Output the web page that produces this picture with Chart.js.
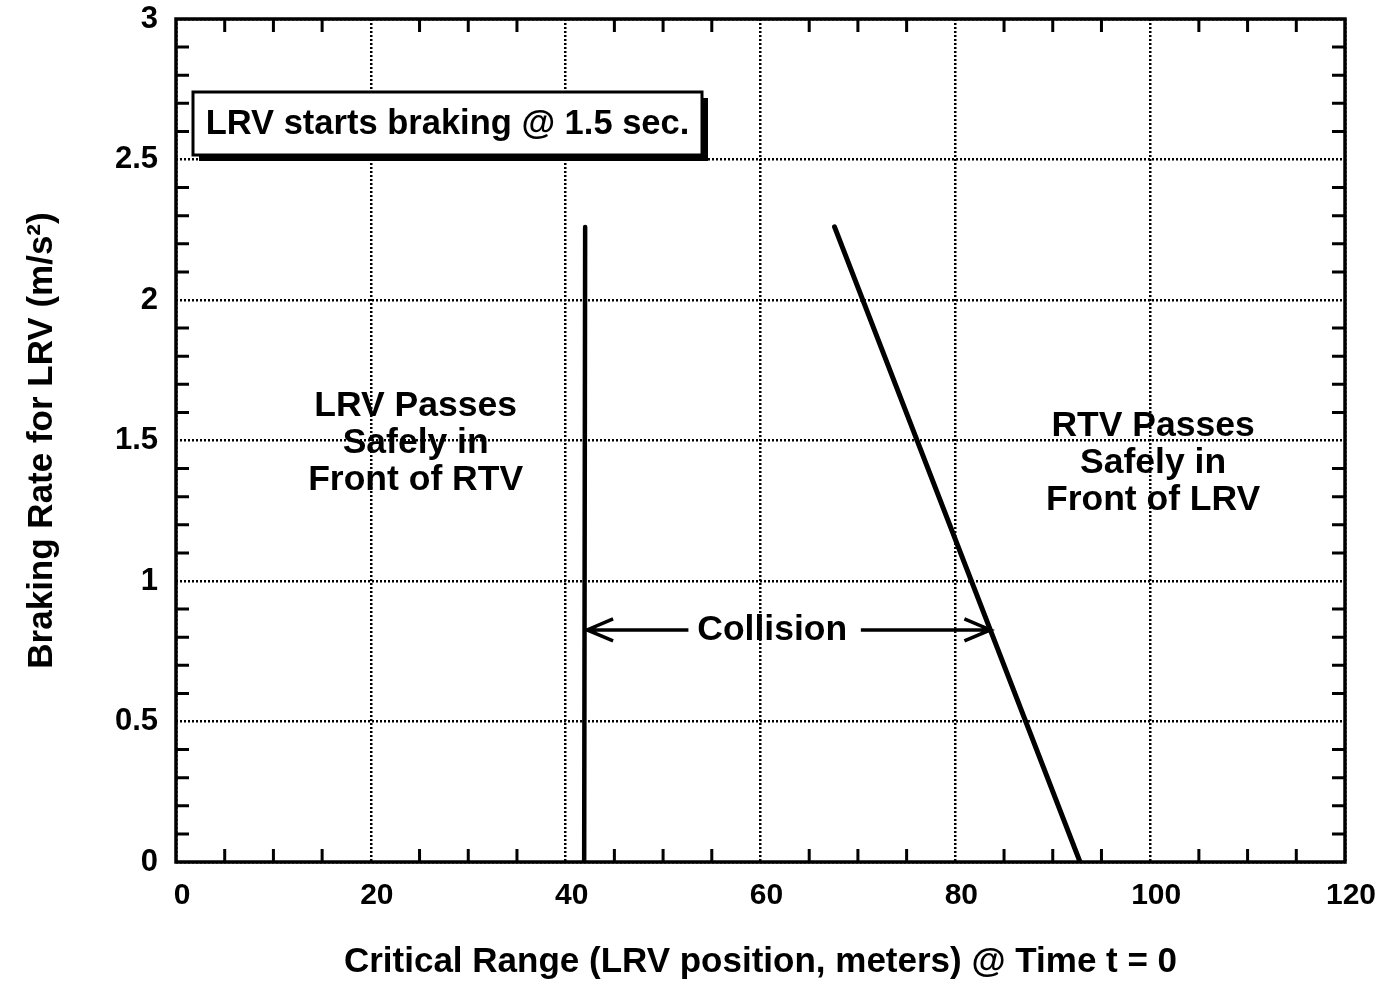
<!DOCTYPE html>
<html><head><meta charset="utf-8">
<script src="https://cdn.jsdelivr.net/npm/chart.js@4/dist/chart.umd.min.js"></script>
<style>html,body{margin:0;padding:0;background:#fff}#wrap{width:1389px;height:990px;position:relative}</style>
</head><body><div id="wrap"><canvas id="c" width="1389" height="990"></canvas></div>
<script>
// ---- data ----
const xTicks = [0, 20, 40, 60, 80, 100, 120];
const xTickLabels = ['0', '20', '40', '60', '80', '100', '120'];
const yTicks = [0, 0.5, 1, 1.5, 2, 2.5, 3];
const yTickLabels = ['0', '0.5', '1', '1.5', '2', '2.5', '3'];
const xMinorStep = 5;
const yMinorStep = 0.1;
const lineA_x = [42.0, 41.9];
const lineA_y = [2.26, 0];
const lineB_x = [67.6, 92.8];
const lineB_y = [2.26, 0];
const xTitle = 'Critical Range (LRV position, meters) @ Time t = 0';
const yTitle = 'Braking Rate for LRV (m/s\u00B2)';
const boxText = 'LRV starts braking @ 1.5 sec.';
const leftRegion = ['LRV Passes', 'Safely in', 'Front of RTV'];
const leftRegionAt = [24.6, 1.49];
const rightRegion = ['RTV Passes', 'Safely in', 'Front of LRV'];
const rightRegionAt = [100.3, 1.42];
const collisionLabel = 'Collision';
const collisionAt = [61.2, 0.826];
const arrowLeft = [52.6, 42.2];
const arrowRight = [70.3, 83.6];

const FONT = '"Liberation Sans", Arial, Helvetica, sans-serif';

const decor = {
  id: 'decor',
  afterDatasetsDraw(chart) {
    const ctx = chart.ctx, ca = chart.chartArea;
    const xs = chart.scales.x, ys = chart.scales.y;
    ctx.save();
    // frame
    ctx.strokeStyle = '#000';
    ctx.lineWidth = 3.5;
    ctx.strokeRect(ca.left, ca.top, ca.right - ca.left, ca.bottom - ca.top);
    // minor ticks (inward)
    ctx.lineWidth = 3;
    const tl = 13;
    ctx.beginPath();
    for (let v = 0; v <= 120 + 1e-9; v += xMinorStep) {
      if (xTicks.some(t => Math.abs(t - v) < 1e-6)) continue;
      const px = xs.getPixelForValue(v);
      ctx.moveTo(px, ca.bottom); ctx.lineTo(px, ca.bottom - tl);
      ctx.moveTo(px, ca.top); ctx.lineTo(px, ca.top + tl);
    }
    for (let i = 0; i <= 30; i++) {
      const v = i * yMinorStep;
      if (yTicks.some(t => Math.abs(t - v) < 1e-6)) continue;
      const py = ys.getPixelForValue(v);
      ctx.moveTo(ca.left, py); ctx.lineTo(ca.left + tl, py);
      ctx.moveTo(ca.right, py); ctx.lineTo(ca.right - tl, py);
    }
    ctx.stroke();

    // box with shadow
    const bx = ca.left + 17, by = ca.top + 73, bw = 509, bh = 63;
    ctx.fillStyle = '#000';
    ctx.fillRect(bx + 6, by + 6, bw, bh);
    ctx.fillStyle = '#fff';
    ctx.fillRect(bx, by, bw, bh);
    ctx.lineWidth = 3;
    ctx.strokeRect(bx, by, bw, bh);
    ctx.fillStyle = '#000';
    ctx.font = 'bold 34.5px ' + FONT;
    ctx.textAlign = 'center';
    ctx.textBaseline = 'middle';
    ctx.fillText(boxText, bx + bw / 2, by + bh / 2 + 1);

    // region labels
    ctx.font = 'bold 35.5px ' + FONT;
    const drawBlock = (lines, at) => {
      const cx = xs.getPixelForValue(at[0]);
      const cy = ys.getPixelForValue(at[1]);
      lines.forEach((t, i) => ctx.fillText(t, cx, cy + (i - 1) * 37));
    };
    drawBlock(leftRegion, leftRegionAt);
    drawBlock(rightRegion, rightRegionAt);

    // collision label + arrows
    const cy = ys.getPixelForValue(collisionAt[1]);
    ctx.fillText(collisionLabel, xs.getPixelForValue(collisionAt[0]), cy);
    const arrow = (x1, x2) => {
      const p1 = xs.getPixelForValue(x1), p2 = xs.getPixelForValue(x2);
      const d = Math.sign(p2 - p1);
      ctx.beginPath();
      ctx.moveTo(p1, cy); ctx.lineTo(p2, cy);
      ctx.moveTo(p2 - d * 26, cy - 11); ctx.lineTo(p2, cy); ctx.lineTo(p2 - d * 26, cy + 11);
      ctx.lineWidth = 3.5;
      ctx.stroke();
    };
    arrow(arrowLeft[0], arrowLeft[1]);
    arrow(arrowRight[0], arrowRight[1]);
    ctx.restore();
  }
};

const gridCommon = { color: '#000', lineWidth: 2.5, drawTicks: false };

new Chart(document.getElementById('c'), {
  type: 'scatter',
  data: {
    datasets: [
      { data: lineA_x.map((x, i) => ({ x, y: lineA_y[i] })), showLine: true, borderColor: '#000', borderWidth: 4.5, pointRadius: 0, borderCapStyle: 'round' },
      { data: lineB_x.map((x, i) => ({ x, y: lineB_y[i] })), showLine: true, borderColor: '#000', borderWidth: 5, pointRadius: 0, borderCapStyle: 'round' }
    ]
  },
  options: {
    responsive: false,
    animation: false,
    devicePixelRatio: 1,
    layout: { padding: { top: 19, right: 44, left: 0, bottom: 0 } },
    plugins: { legend: { display: false }, tooltip: { enabled: false } },
    scales: {
      x: {
        type: 'linear', min: 0, max: 120,
        afterBuildTicks: s => { s.ticks = xTicks.map(v => ({ value: v })); },
        afterFit: s => { s.height = 128; s.paddingLeft = 0; s.paddingRight = 0; },
        grid: gridCommon,
        border: { display: false, dash: [2, 2] },
        ticks: {
          color: '#000', padding: 16, labelOffset: 6, maxRotation: 0,
          font: { family: FONT, size: 30, weight: 'bold' },
          callback: (v) => xTickLabels[xTicks.indexOf(v)]
        },
        title: { display: true, text: xTitle, color: '#000', font: { family: FONT, size: 35, weight: 'bold' }, padding: { top: 4, bottom: 7 } }
      },
      y: {
        type: 'linear', min: 0, max: 3,
        afterBuildTicks: s => { s.ticks = yTicks.map(v => ({ value: v })); },
        afterFit: s => { s.width = 176; s.paddingTop = 0; s.paddingBottom = 0; },
        grid: gridCommon,
        border: { display: false, dash: [2, 2] },
        ticks: {
          color: '#000', padding: 18,
          font: { family: FONT, size: 31, weight: 'bold' },
          callback: (v) => yTickLabels[yTicks.indexOf(v)]
        },
        title: { display: true, text: yTitle, color: '#000', font: { family: FONT, size: 35, weight: 'bold' }, padding: { top: 21, bottom: 4 } }
      }
    }
  },
  plugins: [decor]
});
</script></body></html>
